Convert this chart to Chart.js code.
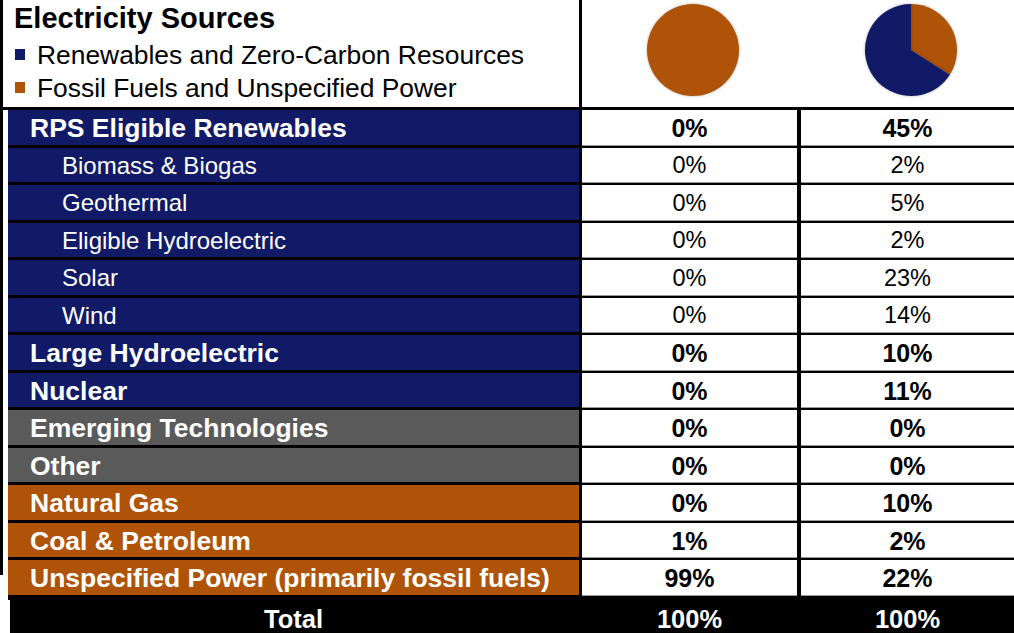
<!DOCTYPE html>
<html>
<head>
<meta charset="utf-8">
<script src="https://cdn.jsdelivr.net/npm/chart.js@4/dist/chart.umd.min.js"></script>
<style>
  html, body { margin: 0; padding: 0; background: #fff; }
  body { width: 1014px; height: 633px; position: relative; overflow: hidden;
         font-family: "Liberation Sans", Arial, sans-serif; }
  .abs { position: absolute; box-sizing: border-box; }
  .cell { position: absolute; box-sizing: border-box; display: flex; align-items: center; white-space: nowrap; padding-top: 2px; }
  .lab { color: #fff; }
  .val { justify-content: center; color: #000; background: #fff; }
  .pie { position: absolute; top: 0; width: 100px; height: 100px; }
</style>
</head>
<body>
<div id="page"></div>
<div class="pie" style="left:643px"><canvas id="pie1" width="100" height="100"></canvas></div>
<div class="pie" style="left:861px"><canvas id="pie2" width="100" height="100"></canvas></div>
<script>
const title = "Electricity Sources";
const legendLabels = ["Renewables and Zero-Carbon Resources", "Fossil Fuels and Unspecified Power"];

const rowLabels = [
  "RPS Eligible Renewables", "Biomass & Biogas", "Geothermal", "Eligible Hydroelectric",
  "Solar", "Wind", "Large Hydroelectric", "Nuclear", "Emerging Technologies", "Other",
  "Natural Gas", "Coal & Petroleum", "Unspecified Power (primarily fossil fuels)"
];
const isSubRow = [false, true, true, true, true, true, false, false, false, false, false, false, false];
const rowGroup = ["ren", "ren", "ren", "ren", "ren", "ren", "ren", "ren", "other", "other", "fossil", "fossil", "fossil"];
const column1 = [0, 0, 0, 0, 0, 0, 0, 0, 0, 0, 0, 1, 99];
const column2 = [45, 2, 5, 2, 23, 14, 10, 11, 0, 0, 10, 2, 22];
const totals = [100, 100];

const colors = { ren: "#111a66", fossil: "#ae5308", other: "#5a5a5a" };

// layout
const page = document.getElementById("page");
const labX = 8, labR = 579, c1X = 582, c1R = 797, c2X = 801, c2R = 1014;
const top0 = 110, pitch = (598 - 110) / rowLabels.length;
const FF = " 'Liberation Sans', Arial, sans-serif";

function add(cls, style, text) {
  const d = document.createElement("div");
  d.className = cls;
  Object.assign(d.style, style);
  if (text !== undefined) d.textContent = text;
  page.appendChild(d);
  return d;
}

// grid lines / background
add("abs", { left: "0px", top: "0px", width: "3px", height: "575px", background: "#000" });
add("abs", { left: "0px", top: "107px", width: "1014px", height: "3px", background: "#000" });
add("abs", { left: labR + "px", top: "0px", width: (c1X - labR) + "px", height: "600px", background: "#000" });
add("abs", { left: labX + "px", top: "107px", width: (c2R - labX) + "px", height: "493px", background: "#000" });

// header text
add("abs", { left: "14px", top: "2px", font: "bold 29px" + FF, color: "#000", whiteSpace: "nowrap" }, title);
legendLabels.forEach((t, i) => {
  const y = 40 + i * 33;
  add("abs", { left: "15px", top: (y + 9) + "px", width: "10px", height: "11px", background: i === 0 ? colors.ren : colors.fossil });
  add("abs", { left: "37px", top: y + "px", font: "26.4px" + FF, color: "#000", whiteSpace: "nowrap", lineHeight: "30px" }, t);
});

// table rows
rowLabels.forEach((t, i) => {
  const y = top0 + i * pitch;
  const h = pitch - 3;
  const bold = !isSubRow[i];
  add("cell lab", {
    left: labX + "px", top: y + "px", width: (labR - labX) + "px", height: h + "px",
    background: colors[rowGroup[i]], paddingLeft: (isSubRow[i] ? 54 : 22) + "px",
    font: (bold ? "bold 26.5px" : "24px") + FF
  }, t);
  [[c1X, c1R, column1], [c2X, c2R, column2]].forEach(([x0, x1, arr]) => {
    add("cell val", {
      left: x0 + "px", top: y + "px", width: (x1 - x0) + "px", height: h + "px",
      font: (bold ? "bold 25px" : "23.5px") + FF
    }, arr[i] + "%");
    // value-row separator: grey over black
    add("abs", { left: x0 + "px", top: (y + h) + "px", width: (x1 - x0) + "px", height: "1px", background: "#9a9a9a" });
  });
});

// total row
add("abs", { left: "10px", top: "599px", width: "1004px", height: "34px", background: "#000" });
[[labX, labR, "Total"], [c1X, c1R, totals[0] + "%"], [c2X, c2R, totals[1] + "%"]].forEach(([x0, x1, t]) => {
  add("cell", { left: x0 + "px", top: "600px", width: (x1 - x0) + "px", height: "36px", justifyContent: "center", color: "#fff", font: "bold 25.5px" + FF }, t);
});

// pie data: top-level rows only
function groupSum(arr, g) {
  return arr.reduce((s, v, i) => s + (!isSubRow[i] && rowGroup[i] === g ? v : 0), 0);
}

const shadow = {
  id: "softShadow",
  beforeDatasetsDraw(chart) {
    const ctx = chart.ctx;
    ctx.save();
    ctx.shadowColor = "rgba(0,0,0,0.3)";
    ctx.shadowBlur = 3;
  },
  afterDatasetsDraw(chart) {
    chart.ctx.restore();
  }
};

function makePie(id, arr) {
  const ctx = document.getElementById(id).getContext("2d");
  return new Chart(ctx, {
    type: "pie",
    data: {
      labels: ["Fossil Fuels and Unspecified Power", "Renewables and Zero-Carbon Resources"],
      datasets: [{
        data: [groupSum(arr, "fossil"), groupSum(arr, "ren")],
        backgroundColor: [colors.fossil, colors.ren],
        borderWidth: 0,
        hoverOffset: 0
      }]
    },
    options: {
      responsive: false,
      animation: false,
      layout: { padding: 4 },
      plugins: { legend: { display: false }, tooltip: { enabled: false } }
    },
    plugins: [shadow]
  });
}

makePie("pie1", column1);
makePie("pie2", column2);
</script>
</body>
</html>
